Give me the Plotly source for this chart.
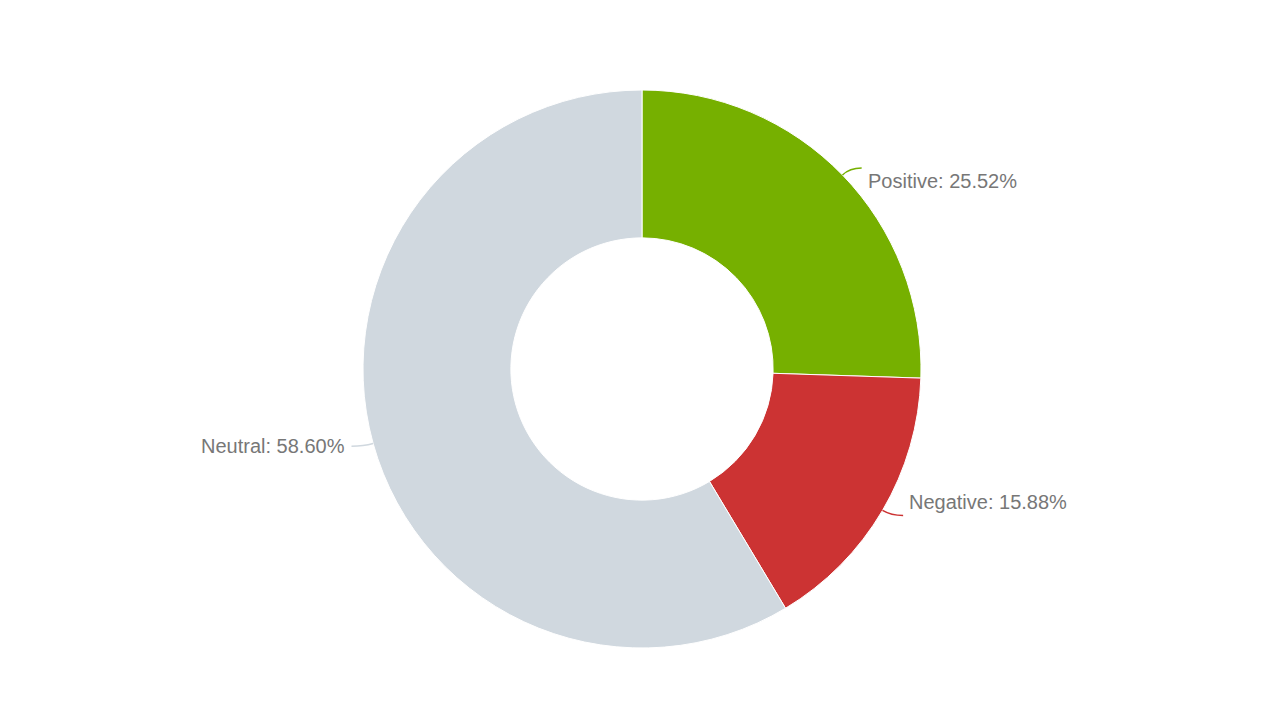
import math
import plotly.graph_objects as go

labels = ["Positive", "Negative", "Neutral"]
values = [25.52, 15.88, 58.60]
colors = ["#76b000", "#cc3333", "#d0d8df"]

W, H = 1280, 720
cx, cy, R = 634, 361, 279  # page renders with ~8px offset

fig = go.Figure(go.Pie(
    labels=labels, values=values, hole=0.47, sort=False, direction="clockwise",
    rotation=0, marker=dict(colors=colors, line=dict(color="white", width=1)),
    textinfo="none", hoverinfo="label+percent", showlegend=False,
    domain=dict(x=[(cx - R) / W, (cx + R) / W], y=[(H - cy - R) / H, (H - cy + R) / H]),
))

# leader lines + labels computed from slice mid angles
total = sum(values)
start = 0
shapes, annotations = [], []
for lab, v, c in zip(labels, values, colors):
    mid = (start + v / 2) / total * 2 * math.pi
    start += v
    s, co = math.sin(mid), math.cos(mid)
    x0, y0 = cx + R * s, cy - R * co
    x1, y1 = cx + (R + 10) * s, cy - (R + 10) * co
    side = 1 if s >= 0 else -1
    x2 = x1 + side * 12
    px = lambda x: x / W
    py = lambda y: 1 - y / H
    shapes.append(dict(type="path", xref="paper", yref="paper",
                       path=f"M {px(x0)},{py(y0)} Q {px(x1)},{py(y1)} {px(x2)},{py(y1)}",
                       line=dict(color=c, width=1.5)))
    annotations.append(dict(x=px(x2 + side * 4), y=py(y1), xref="paper", yref="paper",
                            text=f"{lab}: {v:.2f}%", showarrow=False,
                            xanchor="left" if side > 0 else "right",
                            font=dict(family="Liberation Sans, Arial", size=20, color="#777777")))

fig.update_layout(width=W, height=H, margin=dict(l=0, r=0, t=0, b=0),
                  paper_bgcolor="white", shapes=shapes, annotations=annotations)
fig.write_html("out.html")
